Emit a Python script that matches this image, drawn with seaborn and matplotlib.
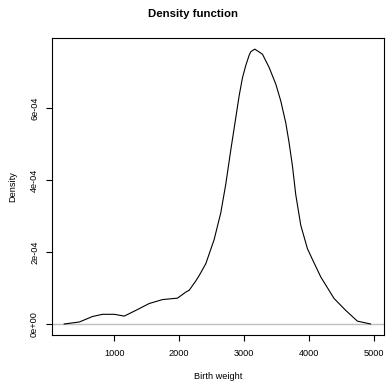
import numpy as np
import pandas as pd
import matplotlib
matplotlib.use('Agg')
import matplotlib.pyplot as plt
import seaborn as sns

# density curve (birth weight in grams, density in 1e-4)
birth_weight = [226, 462, 667, 820, 1000, 1154, 1333, 1538, 1744, 1974, 2103, 2154,
                2256, 2308, 2410, 2538, 2641, 2718, 2795, 2872, 2923, 2974, 3026,
                3077, 3103, 3164, 3282, 3385, 3487, 3564, 3641, 3692, 3744, 3795,
                3872, 3974, 4051, 4180, 4385, 4564, 4744, 4949]
density_e4 = [0.0, 0.056, 0.21, 0.27, 0.27, 0.22, 0.38, 0.57, 0.68, 0.72, 0.89, 0.94,
              1.2, 1.35, 1.68, 2.35, 3.1, 3.9, 4.85, 5.75, 6.35, 6.85, 7.2,
              7.48, 7.58, 7.65, 7.51, 7.14, 6.68, 6.21, 5.6, 5.05, 4.4, 3.6,
              2.75, 2.1, 1.8, 1.31, 0.71, 0.38, 0.08, 0.0]

x_ticks = [1000, 2000, 3000, 4000, 5000]
y_ticks = [0, 2e-4, 4e-4, 6e-4]
y_tick_labels = ['0e+00', '2e-04', '4e-04', '6e-04']

df = pd.DataFrame({'weight': birth_weight,
                   'density': np.array(density_e4) * 1e-4})

sns.set_style('white')
plt.rcParams['font.family'] = ['Liberation Sans', 'DejaVu Sans']
plt.rcParams['text.color'] = 'black'
plt.rcParams['axes.labelcolor'] = 'black'

fig = plt.figure(figsize=(3.87, 3.81), dpi=100)
ax = fig.add_axes([52 / 387, 1 - 335 / 381, 332 / 387, 297 / 381])

ax.axhline(0, color='#bebebe', lw=1.0, zorder=1)
sns.lineplot(data=df, x='weight', y='density', color='black', lw=0.8, ax=ax, zorder=2)

ax.set_xlim(41, 5154)
ax.set_ylim(-3.06e-5, 7.96e-4)
ax.set_xticks(x_ticks)
ax.set_xticklabels([str(t) for t in x_ticks])
ax.set_yticks(y_ticks)
ax.set_yticklabels(y_tick_labels, rotation=90, va='center')

for s in ax.spines.values():
    s.set_visible(True)
    s.set_color('black')
    s.set_linewidth(0.8)

ax.tick_params(axis='both', direction='out', length=4.3, width=0.8, color='black',
               labelsize=6.6, labelcolor='black', bottom=True, left=True)
ax.tick_params(axis='x', pad=6)
ax.tick_params(axis='y', pad=5)

ax.set_xlabel('Birth weight', fontsize=6.6, labelpad=10)
ax.set_ylabel('Density', fontsize=6.6, labelpad=9)
fig.suptitle('Density function', fontsize=8.2, fontweight='bold', color='black',
             y=1 - 14 / 381, va='center')

fig.savefig('out.png', dpi=100)
